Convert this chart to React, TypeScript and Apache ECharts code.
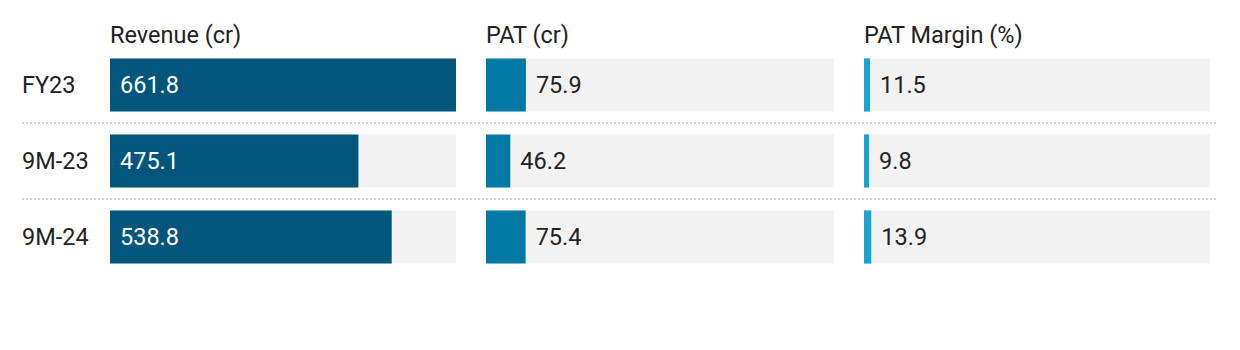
import React, { useEffect, useRef } from "react";
import * as echarts from "echarts";

const categories = ["FY23", "9M-23", "9M-24"];
const revenue = [661.8, 475.1, 538.8];
const pat = [75.9, 46.2, 75.4];
const patMargin = [11.5, 9.8, 13.9];
const panelTitles = ["Revenue (cr)", "PAT (cr)", "PAT Margin (%)"];

const FONT = "Roboto, 'Noto Sans', sans-serif";
const FS = 23.5;

export default function App() {
  const ref = useRef<HTMLDivElement>(null);
  useEffect(() => {
    if (!ref.current) return;
    const chart = echarts.init(ref.current, undefined, { renderer: "svg" });
    const scaleMax = Math.max(...revenue);
    const top = 47;
    const height = 228;
    const grids = [
      { left: 110, top, width: 346, height },
      { left: 486, top, width: 348, height },
      { left: 864, top, width: 346, height },
      { left: 22, top, width: 1196, height },
    ];
    const colors = ["#02557b", "#0179a4", "#19a3d5"];
    const seriesData = [revenue, pat, patMargin];

    const xAxis = grids.map((_, i) => ({
      type: "value" as const,
      gridIndex: i,
      min: 0,
      max: scaleMax,
      show: false,
    }));
    const yAxis = grids.map((_, i) => ({
      type: "category" as const,
      gridIndex: i,
      data: categories,
      inverse: true,
      axisLine: { show: false },
      axisTick: { show: false },
      axisLabel:
        i === 0
          ? { show: true, align: "left" as const, margin: 88, fontFamily: FONT, fontSize: FS, color: "#222" }
          : { show: false },
      splitLine:
        i === 3
          ? {
              show: true,
              showMinLine: false,
              showMaxLine: false,
              lineStyle: { color: "#c8c8c8", type: [2, 2], width: 1.5 },
            }
          : { show: false },
    }));

    const series = seriesData.map((data, i) => ({
      type: "bar" as const,
      xAxisIndex: i,
      yAxisIndex: i,
      data,
      barWidth: "70%",
      itemStyle: { color: colors[i] },
      showBackground: true,
      backgroundStyle: { color: "#f2f2f2" },
      label: {
        show: true,
        position: i === 0 ? ("insideLeft" as const) : ("right" as const),
        distance: 10,
        color: i === 0 ? "#ffffff" : "#222",
        fontFamily: FONT,
        fontSize: FS,
        formatter: (p: any) => Number(p.value).toFixed(1),
      },
      silent: true,
    }));

    const graphic = panelTitles.map((t, i) => ({
      type: "text" as const,
      left: grids[i].left,
      top: 23,
      style: { text: t, fontFamily: FONT, fontSize: FS, fill: "#222" },
    }));

    chart.setOption({
      animation: false,
      grid: grids,
      xAxis,
      yAxis,
      series,
      graphic,
    });
    return () => chart.dispose();
  }, []);
  return (
    <div
      ref={ref}
      style={{ position: "absolute", left: 0, top: 0, width: 1240, height: 350, background: "#fff" }}
    />
  );
}
